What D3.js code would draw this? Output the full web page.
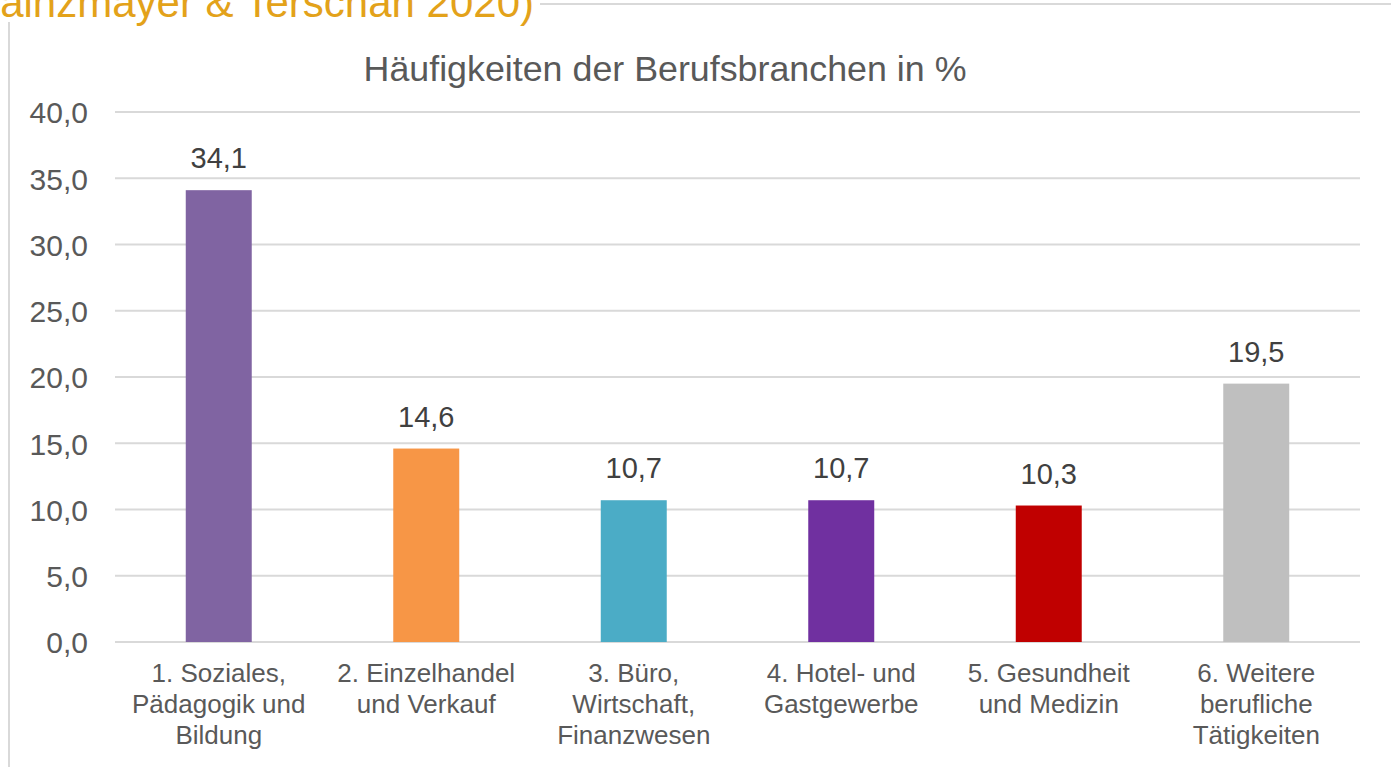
<!DOCTYPE html>
<html>
<head>
<meta charset="utf-8">
<script src="https://cdn.jsdelivr.net/npm/d3@7"></script>
<style>
    body { margin: 0; background: #fff; }
    svg { display: block; font-family: "Liberation Sans", Arial, sans-serif; }
</style>
</head>
<body>
<div id="chart"></div>
<script>
// chart data
const categories = [
    ['1. Soziales,', 'Pädagogik und', 'Bildung'],
    ['2. Einzelhandel', 'und Verkauf'],
    ['3. Büro,', 'Wirtschaft,', 'Finanzwesen'],
    ['4. Hotel- und', 'Gastgewerbe'],
    ['5. Gesundheit', 'und Medizin'],
    ['6. Weitere', 'berufliche', 'Tätigkeiten']
];
const values = [34.1, 14.6, 10.7, 10.7, 10.3, 19.5];
const barColors = ['#8064A2', '#F79646', '#4BACC6', '#7030A0', '#C00000', '#BFBFBF'];
const yTicks = [0, 5, 10, 15, 20, 25, 30, 35, 40];
const title = 'Häufigkeiten der Berufsbranchen in %';
const sourceText = 'ainzmayer & Terschan 2020)';

const width = 1391, height = 767;
const margin = { top: 112, right: 31, bottom: 125, left: 115 };
const textColor = '#595959';
const fmt = v => d3.format('.1f')(v).replace('.', ',');

const svg = d3.select('#chart').append('svg')
    .attr('width', width)
    .attr('height', height);

// frame remnants of the surrounding page
svg.append('line')
    .attr('x1', 9).attr('x2', 9)
    .attr('y1', 22).attr('y2', height)
    .attr('stroke', '#d9d9d9').attr('stroke-width', 2);
svg.append('line')
    .attr('x1', 540).attr('x2', width)
    .attr('y1', 4).attr('y2', 4)
    .attr('stroke', '#d9d9d9').attr('stroke-width', 2);

// source note, cut at the top-left like in the page it came from
svg.append('text')
    .attr('x', 534)
    .attr('y', 17)
    .attr('text-anchor', 'end')
    .attr('fill', '#E3A21A')
    .style('font-size', '42px')
    .text(sourceText);

svg.append('text')
    .attr('x', 665)
    .attr('y', 81)
    .attr('text-anchor', 'middle')
    .attr('fill', textColor)
    .style('font-size', '35.8px')
    .text(title);

const x = d3.scaleBand()
    .domain(d3.range(values.length))
    .range([margin.left, width - margin.right])
    .paddingInner(0.682)
    .paddingOuter(0.341);

const y = d3.scaleLinear()
    .domain([0, 40])
    .range([height - margin.bottom, margin.top]);

// grid
svg.append('g')
    .selectAll('line')
    .data(yTicks)
    .join('line')
    .attr('x1', margin.left)
    .attr('x2', width - margin.right)
    .attr('y1', d => y(d))
    .attr('y2', d => y(d))
    .attr('stroke', '#d9d9d9')
    .attr('stroke-width', 2);

// y axis labels
const yAxis = d3.axisLeft(y)
    .tickValues(yTicks)
    .tickFormat(fmt)
    .tickSize(0)
    .tickPadding(0);

svg.append('g')
    .attr('transform', `translate(88,0)`)
    .call(yAxis)
    .call(g => g.select('.domain').remove())
    .call(g => g.selectAll('text')
        .attr('fill', textColor)
        .attr('dy', '0.36em')
        .style('font-size', '30px')
        .style('font-family', '"Liberation Sans", Arial, sans-serif'));

// bars
svg.append('g')
    .selectAll('rect')
    .data(values)
    .join('rect')
    .attr('x', (d, i) => x(i))
    .attr('width', x.bandwidth())
    .attr('y', d => y(d))
    .attr('height', d => y(0) - y(d))
    .attr('fill', (d, i) => barColors[i]);

// value labels
svg.append('g')
    .selectAll('text')
    .data(values)
    .join('text')
    .attr('x', (d, i) => x(i) + x.bandwidth() / 2)
    .attr('y', d => y(d) - 22)
    .attr('text-anchor', 'middle')
    .attr('fill', '#404040')
    .style('font-size', '29px')
    .text(fmt);

// category labels
const cat = svg.append('g')
    .selectAll('text')
    .data(categories)
    .join('text')
    .attr('text-anchor', 'middle')
    .attr('fill', textColor)
    .style('font-size', '26px');

cat.selectAll('tspan')
    .data((d, i) => d.map(line => ({ line, i })))
    .join('tspan')
    .attr('x', d => x(d.i) + x.bandwidth() / 2)
    .attr('y', (d, j) => 682 + j * 31)
    .text(d => d.line);
</script>
</body>
</html>
